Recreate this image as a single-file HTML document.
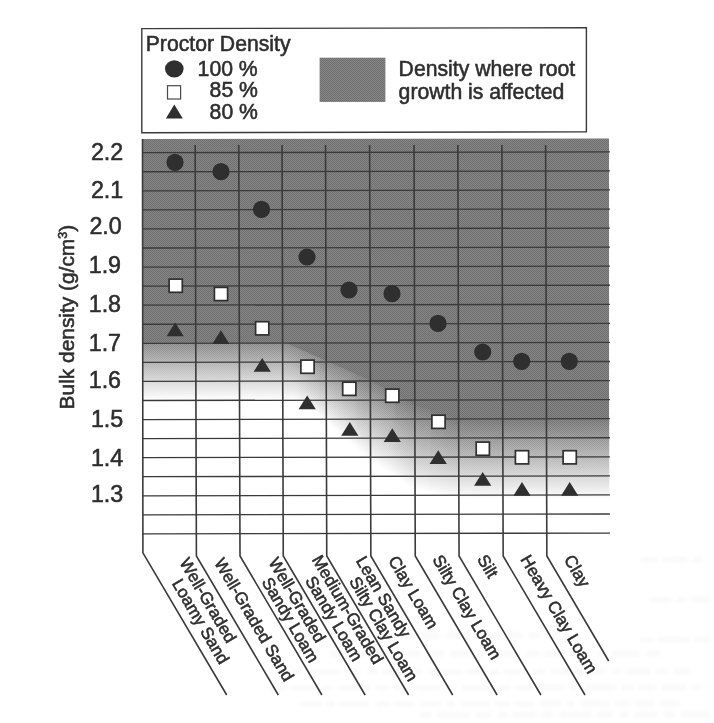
<!DOCTYPE html>
<html lang="en"><head><meta charset="utf-8"><title>Proctor Density vs Bulk Density</title>
<style>
html,body{margin:0;padding:0;background:#fff;}
body{width:714px;height:723px;overflow:hidden;}
svg{display:block;}
text{font-family:"Liberation Sans",sans-serif;fill:#2e2e2e;}
.hv text,text.hv{stroke:#2e2e2e;stroke-width:0.55px;}
</style></head><body>
<svg width="714" height="723" viewBox="0 0 714 723">
<defs>
<linearGradient id="fade0" x1="0" y1="0" x2="0" y2="1"><stop offset="0" stop-color="rgb(146,146,146)"/><stop offset="1" stop-color="#fff"/></linearGradient><linearGradient id="fade1" x1="0" y1="0" x2="0" y2="1"><stop offset="0" stop-color="rgb(141,141,141)"/><stop offset="1" stop-color="#fff"/></linearGradient><linearGradient id="fade2" x1="0" y1="0" x2="0" y2="1"><stop offset="0" stop-color="rgb(136,136,136)"/><stop offset="1" stop-color="#fff"/></linearGradient><linearGradient id="fade3" x1="0" y1="0" x2="0" y2="1"><stop offset="0" stop-color="rgb(131,131,131)"/><stop offset="1" stop-color="#fff"/></linearGradient><linearGradient id="fade4" x1="0" y1="0" x2="0" y2="1"><stop offset="0" stop-color="rgb(126,126,126)"/><stop offset="1" stop-color="#fff"/></linearGradient>
<pattern id="tone" width="2" height="2" patternUnits="userSpaceOnUse"><rect width="2" height="2" fill="#888888"/><rect width="1" height="1" fill="#727272"/><rect x="1" y="1" width="1" height="1" fill="#727272"/></pattern>
<filter id="smudge" x="-5%" y="-50%" width="110%" height="200%"><feGaussianBlur stdDeviation="2.2"/></filter>
<clipPath id="plotclip"><polygon points="141.9,138.9 609.0,138.1 609.3,533.5 141.9,534.5"/></clipPath>
</defs>
<rect x="0" y="0" width="714" height="723" fill="#fff"/>

<g clip-path="url(#plotclip)">
<rect x="140.6" y="136.5" width="470.69999999999993" height="399.0" fill="#fff"/>
<polygon fill="#7d7d7d" points="142.6,138.5 609.3,138.5 609.3,419.5 607.6,419.5 604.6,419.5 601.6,419.5 598.6,419.5 595.6,419.5 592.6,419.5 589.6,419.5 586.6,419.5 583.6,419.6 580.6,419.6 577.6,419.6 574.6,419.6 571.6,419.6 568.6,419.6 565.6,419.6 562.6,419.6 559.6,419.6 556.6,419.6 553.6,419.6 550.6,419.6 547.6,419.6 544.6,419.6 541.6,419.6 538.6,419.6 535.6,419.6 532.6,419.6 529.6,419.6 526.6,419.7 523.6,419.7 520.6,419.7 517.6,419.7 514.6,419.7 511.6,419.7 508.6,419.7 505.6,419.7 502.6,419.7 499.6,419.7 496.6,419.6 493.6,419.6 490.6,419.5 487.6,419.5 484.6,419.5 481.6,419.4 478.6,419.4 475.6,419.3 472.6,419.3 469.6,419.3 466.6,419.2 463.6,419.2 460.6,419.1 457.6,419.0 454.6,418.1 451.6,417.2 448.6,416.4 445.6,415.5 442.6,414.6 439.6,413.7 436.6,412.9 433.6,412.0 430.6,411.1 427.6,410.3 424.6,409.4 421.6,408.5 418.6,407.6 415.6,406.8 412.6,405.3 409.6,403.7 406.6,402.0 403.6,400.3 400.6,398.7 397.6,397.0 394.6,395.3 391.6,393.7 388.6,392.0 385.6,390.4 382.6,388.7 379.6,387.0 376.6,385.4 373.6,383.7 370.6,382.0 367.6,380.6 364.6,379.3 361.6,377.9 358.6,376.6 355.6,375.2 352.6,373.8 349.6,372.5 346.6,371.1 343.6,369.8 340.6,368.4 337.6,367.1 334.6,365.7 331.6,364.4 328.6,363.0 325.6,361.7 322.6,360.4 319.6,359.1 316.6,357.7 313.6,356.4 310.6,355.1 307.6,353.8 304.6,352.5 301.6,351.2 298.6,349.9 295.6,348.5 292.6,347.2 289.6,345.9 286.6,344.6 283.6,343.9 280.6,343.9 277.6,343.9 274.6,343.9 271.6,343.9 268.6,343.9 265.6,343.9 262.6,343.9 259.6,343.9 256.6,343.9 253.6,343.9 250.6,343.9 247.6,343.9 244.6,343.9 241.6,343.9 238.6,343.9 235.6,343.9 232.6,343.9 229.6,343.9 226.6,343.9 223.6,343.9 220.6,343.9 217.6,343.9 214.6,343.9 211.6,343.9 208.6,343.9 205.6,343.9 202.6,343.9 199.6,343.9 196.6,343.9 193.6,343.9 190.6,343.9 187.6,343.9 184.6,343.9 181.6,343.9 178.6,343.9 175.6,343.9 172.6,343.9 169.6,343.9 166.6,343.9 163.6,343.9 160.6,343.9 157.6,343.9 154.6,343.9 151.6,343.9 148.6,343.9 145.6,343.9 142.6,343.9"/>
<rect x="142.6" y="342.9" width="3.6" height="57.1" fill="url(#fade0)"/>
<rect x="145.6" y="342.9" width="3.6" height="57.1" fill="url(#fade0)"/>
<rect x="148.6" y="342.9" width="3.6" height="57.1" fill="url(#fade0)"/>
<rect x="151.6" y="342.9" width="3.6" height="57.1" fill="url(#fade0)"/>
<rect x="154.6" y="342.9" width="3.6" height="57.1" fill="url(#fade0)"/>
<rect x="157.6" y="342.9" width="3.6" height="57.1" fill="url(#fade0)"/>
<rect x="160.6" y="342.9" width="3.6" height="57.1" fill="url(#fade0)"/>
<rect x="163.6" y="342.9" width="3.6" height="57.1" fill="url(#fade0)"/>
<rect x="166.6" y="342.9" width="3.6" height="57.1" fill="url(#fade0)"/>
<rect x="169.6" y="342.9" width="3.6" height="57.1" fill="url(#fade0)"/>
<rect x="172.6" y="342.9" width="3.6" height="57.1" fill="url(#fade0)"/>
<rect x="175.6" y="342.9" width="3.6" height="57.1" fill="url(#fade0)"/>
<rect x="178.6" y="342.9" width="3.6" height="57.1" fill="url(#fade0)"/>
<rect x="181.6" y="342.9" width="3.6" height="57.1" fill="url(#fade0)"/>
<rect x="184.6" y="342.9" width="3.6" height="57.1" fill="url(#fade0)"/>
<rect x="187.6" y="342.9" width="3.6" height="57.1" fill="url(#fade0)"/>
<rect x="190.6" y="342.9" width="3.6" height="57.1" fill="url(#fade0)"/>
<rect x="193.6" y="342.9" width="3.6" height="57.1" fill="url(#fade0)"/>
<rect x="196.6" y="342.9" width="3.6" height="57.1" fill="url(#fade0)"/>
<rect x="199.6" y="342.9" width="3.6" height="57.1" fill="url(#fade0)"/>
<rect x="202.6" y="342.9" width="3.6" height="57.1" fill="url(#fade0)"/>
<rect x="205.6" y="342.9" width="3.6" height="57.1" fill="url(#fade0)"/>
<rect x="208.6" y="342.9" width="3.6" height="57.1" fill="url(#fade0)"/>
<rect x="211.6" y="342.9" width="3.6" height="57.1" fill="url(#fade0)"/>
<rect x="214.6" y="342.9" width="3.6" height="57.1" fill="url(#fade0)"/>
<rect x="217.6" y="342.9" width="3.6" height="57.1" fill="url(#fade0)"/>
<rect x="220.6" y="342.9" width="3.6" height="57.1" fill="url(#fade0)"/>
<rect x="223.6" y="342.9" width="3.6" height="57.1" fill="url(#fade0)"/>
<rect x="226.6" y="342.9" width="3.6" height="57.1" fill="url(#fade0)"/>
<rect x="229.6" y="342.9" width="3.6" height="57.1" fill="url(#fade0)"/>
<rect x="232.6" y="342.9" width="3.6" height="57.1" fill="url(#fade0)"/>
<rect x="235.6" y="342.9" width="3.6" height="57.1" fill="url(#fade0)"/>
<rect x="238.6" y="342.9" width="3.6" height="57.1" fill="url(#fade0)"/>
<rect x="241.6" y="342.9" width="3.6" height="57.1" fill="url(#fade0)"/>
<rect x="244.6" y="342.9" width="3.6" height="57.1" fill="url(#fade0)"/>
<rect x="247.6" y="342.9" width="3.6" height="57.1" fill="url(#fade0)"/>
<rect x="250.6" y="342.9" width="3.6" height="57.1" fill="url(#fade0)"/>
<rect x="253.6" y="342.9" width="3.6" height="57.1" fill="url(#fade0)"/>
<rect x="256.6" y="342.9" width="3.6" height="57.1" fill="url(#fade0)"/>
<rect x="259.6" y="342.9" width="3.6" height="57.1" fill="url(#fade0)"/>
<rect x="262.6" y="342.9" width="3.6" height="57.1" fill="url(#fade0)"/>
<rect x="265.6" y="342.9" width="3.6" height="57.1" fill="url(#fade0)"/>
<rect x="268.6" y="342.9" width="3.6" height="57.1" fill="url(#fade0)"/>
<rect x="271.6" y="342.9" width="3.6" height="57.1" fill="url(#fade0)"/>
<rect x="274.6" y="342.9" width="3.6" height="57.1" fill="url(#fade0)"/>
<rect x="277.6" y="342.9" width="3.6" height="57.1" fill="url(#fade0)"/>
<rect x="280.6" y="342.9" width="3.6" height="57.1" fill="url(#fade0)"/>
<rect x="283.6" y="342.9" width="3.6" height="57.1" fill="url(#fade0)"/>
<rect x="286.6" y="344.3" width="3.6" height="55.7" fill="url(#fade0)"/>
<rect x="289.6" y="345.6" width="3.6" height="54.4" fill="url(#fade0)"/>
<rect x="292.6" y="346.9" width="3.6" height="53.1" fill="url(#fade0)"/>
<rect x="295.6" y="348.2" width="3.6" height="52.6" fill="url(#fade0)"/>
<rect x="298.6" y="349.5" width="3.6" height="53.4" fill="url(#fade0)"/>
<rect x="301.6" y="350.8" width="3.6" height="54.2" fill="url(#fade0)"/>
<rect x="304.6" y="352.1" width="3.6" height="55.0" fill="url(#fade0)"/>
<rect x="307.6" y="353.5" width="3.6" height="55.8" fill="url(#fade0)"/>
<rect x="310.6" y="354.8" width="3.6" height="56.7" fill="url(#fade0)"/>
<rect x="313.6" y="356.1" width="3.6" height="57.5" fill="url(#fade0)"/>
<rect x="316.6" y="357.4" width="3.6" height="58.3" fill="url(#fade0)"/>
<rect x="319.6" y="358.7" width="3.6" height="59.1" fill="url(#fade1)"/>
<rect x="322.6" y="360.0" width="3.6" height="59.9" fill="url(#fade1)"/>
<rect x="325.6" y="361.3" width="3.6" height="60.7" fill="url(#fade1)"/>
<rect x="328.6" y="362.7" width="3.6" height="62.0" fill="url(#fade1)"/>
<rect x="331.6" y="364.1" width="3.6" height="63.3" fill="url(#fade1)"/>
<rect x="334.6" y="365.4" width="3.6" height="64.6" fill="url(#fade1)"/>
<rect x="337.6" y="366.8" width="3.6" height="65.9" fill="url(#fade1)"/>
<rect x="340.6" y="368.1" width="3.6" height="67.2" fill="url(#fade1)"/>
<rect x="343.6" y="369.5" width="3.6" height="68.5" fill="url(#fade1)"/>
<rect x="346.6" y="370.8" width="3.6" height="69.8" fill="url(#fade1)"/>
<rect x="349.6" y="372.2" width="3.6" height="71.1" fill="url(#fade1)"/>
<rect x="352.6" y="373.5" width="3.6" height="72.4" fill="url(#fade1)"/>
<rect x="355.6" y="374.9" width="3.6" height="73.7" fill="url(#fade2)"/>
<rect x="358.6" y="376.2" width="3.6" height="75.0" fill="url(#fade2)"/>
<rect x="361.6" y="377.6" width="3.6" height="76.3" fill="url(#fade2)"/>
<rect x="364.6" y="378.9" width="3.6" height="77.6" fill="url(#fade2)"/>
<rect x="367.6" y="380.3" width="3.6" height="78.9" fill="url(#fade2)"/>
<rect x="370.6" y="381.9" width="3.6" height="79.5" fill="url(#fade2)"/>
<rect x="373.6" y="383.5" width="3.6" height="79.9" fill="url(#fade2)"/>
<rect x="376.6" y="385.2" width="3.6" height="80.2" fill="url(#fade2)"/>
<rect x="379.6" y="386.9" width="3.6" height="80.6" fill="url(#fade2)"/>
<rect x="382.6" y="388.5" width="3.6" height="80.9" fill="url(#fade2)"/>
<rect x="385.6" y="390.2" width="3.6" height="81.3" fill="url(#fade2)"/>
<rect x="388.6" y="391.9" width="3.6" height="81.6" fill="url(#fade2)"/>
<rect x="391.6" y="393.5" width="3.6" height="82.0" fill="url(#fade2)"/>
<rect x="394.6" y="395.2" width="3.6" height="82.3" fill="url(#fade3)"/>
<rect x="397.6" y="396.8" width="3.6" height="82.7" fill="url(#fade3)"/>
<rect x="400.6" y="398.5" width="3.6" height="83.0" fill="url(#fade3)"/>
<rect x="403.6" y="400.2" width="3.6" height="83.4" fill="url(#fade3)"/>
<rect x="406.6" y="401.8" width="3.6" height="83.7" fill="url(#fade3)"/>
<rect x="409.6" y="403.5" width="3.6" height="84.1" fill="url(#fade3)"/>
<rect x="412.6" y="405.2" width="3.6" height="84.4" fill="url(#fade3)"/>
<rect x="415.6" y="406.2" width="3.6" height="84.3" fill="url(#fade3)"/>
<rect x="418.6" y="407.1" width="3.6" height="84.0" fill="url(#fade3)"/>
<rect x="421.6" y="407.9" width="3.6" height="83.7" fill="url(#fade3)"/>
<rect x="424.6" y="408.8" width="3.6" height="83.4" fill="url(#fade3)"/>
<rect x="427.6" y="409.7" width="3.6" height="83.2" fill="url(#fade3)"/>
<rect x="430.6" y="410.6" width="3.6" height="82.9" fill="url(#fade4)"/>
<rect x="433.6" y="411.4" width="3.6" height="82.6" fill="url(#fade4)"/>
<rect x="436.6" y="412.3" width="3.6" height="82.3" fill="url(#fade4)"/>
<rect x="439.6" y="413.2" width="3.6" height="82.1" fill="url(#fade4)"/>
<rect x="442.6" y="414.1" width="3.6" height="81.8" fill="url(#fade4)"/>
<rect x="445.6" y="414.9" width="3.6" height="81.5" fill="url(#fade4)"/>
<rect x="448.6" y="415.8" width="3.6" height="81.2" fill="url(#fade4)"/>
<rect x="451.6" y="416.7" width="3.6" height="80.5" fill="url(#fade4)"/>
<rect x="454.6" y="417.5" width="3.6" height="79.9" fill="url(#fade4)"/>
<rect x="457.6" y="418.1" width="3.6" height="79.5" fill="url(#fade4)"/>
<rect x="460.6" y="418.2" width="3.6" height="79.7" fill="url(#fade4)"/>
<rect x="463.6" y="418.2" width="3.6" height="79.8" fill="url(#fade4)"/>
<rect x="466.6" y="418.2" width="3.6" height="80.0" fill="url(#fade4)"/>
<rect x="469.6" y="418.3" width="3.6" height="80.1" fill="url(#fade4)"/>
<rect x="472.6" y="418.3" width="3.6" height="80.3" fill="url(#fade4)"/>
<rect x="475.6" y="418.4" width="3.6" height="80.4" fill="url(#fade4)"/>
<rect x="478.6" y="418.4" width="3.6" height="80.6" fill="url(#fade4)"/>
<rect x="481.6" y="418.4" width="3.6" height="80.6" fill="url(#fade4)"/>
<rect x="484.6" y="418.5" width="3.6" height="80.5" fill="url(#fade4)"/>
<rect x="487.6" y="418.5" width="3.6" height="80.5" fill="url(#fade4)"/>
<rect x="490.6" y="418.6" width="3.6" height="80.4" fill="url(#fade4)"/>
<rect x="493.6" y="418.6" width="3.6" height="80.4" fill="url(#fade4)"/>
<rect x="496.6" y="418.6" width="3.6" height="80.4" fill="url(#fade4)"/>
<rect x="499.6" y="418.7" width="3.6" height="80.3" fill="url(#fade4)"/>
<rect x="502.6" y="418.7" width="3.6" height="80.3" fill="url(#fade4)"/>
<rect x="505.6" y="418.7" width="3.6" height="80.3" fill="url(#fade4)"/>
<rect x="508.6" y="418.7" width="3.6" height="80.3" fill="url(#fade4)"/>
<rect x="511.6" y="418.7" width="3.6" height="80.3" fill="url(#fade4)"/>
<rect x="514.6" y="418.7" width="3.6" height="80.3" fill="url(#fade4)"/>
<rect x="517.6" y="418.7" width="3.6" height="80.3" fill="url(#fade4)"/>
<rect x="520.6" y="418.7" width="3.6" height="80.3" fill="url(#fade4)"/>
<rect x="523.6" y="418.7" width="3.6" height="80.3" fill="url(#fade4)"/>
<rect x="526.6" y="418.7" width="3.6" height="80.3" fill="url(#fade4)"/>
<rect x="529.6" y="418.6" width="3.6" height="80.4" fill="url(#fade4)"/>
<rect x="532.6" y="418.6" width="3.6" height="80.4" fill="url(#fade4)"/>
<rect x="535.6" y="418.6" width="3.6" height="80.4" fill="url(#fade4)"/>
<rect x="538.6" y="418.6" width="3.6" height="80.4" fill="url(#fade4)"/>
<rect x="541.6" y="418.6" width="3.6" height="80.4" fill="url(#fade4)"/>
<rect x="544.6" y="418.6" width="3.6" height="80.4" fill="url(#fade4)"/>
<rect x="547.6" y="418.6" width="3.6" height="80.4" fill="url(#fade4)"/>
<rect x="550.6" y="418.6" width="3.6" height="80.4" fill="url(#fade4)"/>
<rect x="553.6" y="418.6" width="3.6" height="80.4" fill="url(#fade4)"/>
<rect x="556.6" y="418.6" width="3.6" height="80.4" fill="url(#fade4)"/>
<rect x="559.6" y="418.6" width="3.6" height="80.4" fill="url(#fade4)"/>
<rect x="562.6" y="418.6" width="3.6" height="80.4" fill="url(#fade4)"/>
<rect x="565.6" y="418.6" width="3.6" height="80.4" fill="url(#fade4)"/>
<rect x="568.6" y="418.6" width="3.6" height="80.4" fill="url(#fade4)"/>
<rect x="571.6" y="418.6" width="3.6" height="80.4" fill="url(#fade4)"/>
<rect x="574.6" y="418.6" width="3.6" height="80.4" fill="url(#fade4)"/>
<rect x="577.6" y="418.6" width="3.6" height="80.4" fill="url(#fade4)"/>
<rect x="580.6" y="418.6" width="3.6" height="80.4" fill="url(#fade4)"/>
<rect x="583.6" y="418.5" width="3.6" height="80.5" fill="url(#fade4)"/>
<rect x="586.6" y="418.5" width="3.6" height="80.5" fill="url(#fade4)"/>
<rect x="589.6" y="418.5" width="3.6" height="80.5" fill="url(#fade4)"/>
<rect x="592.6" y="418.5" width="3.6" height="80.5" fill="url(#fade4)"/>
<rect x="595.6" y="418.5" width="3.6" height="80.5" fill="url(#fade4)"/>
<rect x="598.6" y="418.5" width="3.6" height="80.5" fill="url(#fade4)"/>
<rect x="601.6" y="418.5" width="3.6" height="80.5" fill="url(#fade4)"/>
<rect x="604.6" y="418.5" width="3.6" height="80.5" fill="url(#fade4)"/>
<rect x="607.6" y="418.5" width="3.6" height="80.5" fill="url(#fade4)"/>
<rect x="142.6" y="138.5" width="466.69999999999993" height="395.0" fill="url(#tone)" style="mix-blend-mode:overlay"/>
</g>
<g stroke="#3a3a3a" stroke-width="1.3" fill="none">
<line x1="142.6" y1="152.70" x2="609.9" y2="151.85"/>
<line x1="142.6" y1="171.76" x2="609.9" y2="170.91"/>
<line x1="142.6" y1="190.82" x2="609.9" y2="189.97"/>
<line x1="142.6" y1="209.88" x2="609.9" y2="209.03"/>
<line x1="142.6" y1="228.94" x2="609.9" y2="228.09"/>
<line x1="142.6" y1="248.00" x2="609.9" y2="247.15"/>
<line x1="142.6" y1="267.06" x2="609.9" y2="266.21"/>
<line x1="142.6" y1="286.12" x2="609.9" y2="285.27"/>
<line x1="142.6" y1="305.18" x2="609.9" y2="304.33"/>
<line x1="142.6" y1="324.24" x2="609.9" y2="323.39"/>
<line x1="142.6" y1="343.30" x2="609.9" y2="342.45"/>
<line x1="142.6" y1="362.36" x2="609.9" y2="361.51"/>
<line x1="142.6" y1="381.42" x2="609.9" y2="380.57"/>
<line x1="142.6" y1="400.48" x2="609.9" y2="399.63"/>
<line x1="142.6" y1="419.54" x2="609.9" y2="418.69"/>
<line x1="142.6" y1="438.60" x2="609.9" y2="437.75"/>
<line x1="142.6" y1="457.66" x2="609.9" y2="456.81"/>
<line x1="142.6" y1="476.72" x2="609.9" y2="475.87"/>
<line x1="142.6" y1="495.78" x2="609.9" y2="494.93"/>
<line x1="142.6" y1="514.84" x2="609.9" y2="513.99"/>
<line x1="142.6" y1="533.90" x2="609.9" y2="533.05"/>
</g>
<g stroke="#3a3a3a" stroke-width="1.6" fill="none" stroke-linejoin="miter">
<polyline points="142.50,139 142.91,552.8 226.7,695.0"/>
<polyline points="195.16,145 196.40,556 278.3,695.0"/>
<polyline points="238.76,145 240.00,556 321.9,695.0"/>
<polyline points="282.02,145 283.25,556 365.1,695.0"/>
<polyline points="325.52,145 326.75,556 408.6,695.0"/>
<polyline points="369.62,145 370.85,556 452.7,695.0"/>
<polyline points="414.02,145 415.25,556 497.1,695.0"/>
<polyline points="457.81,145 459.05,556 540.9,695.0"/>
<polyline points="501.92,145 503.15,556 585.0,695.0"/>
<polyline points="545.62,145 546.85,556 608.7,661.0"/>
</g>
<g fill="#2f2f2f">
<circle cx="175" cy="162.3" r="8.6"/>
<circle cx="221" cy="171.7" r="8.6"/>
<circle cx="261.5" cy="209.3" r="8.6"/>
<circle cx="307" cy="257" r="8.6"/>
<circle cx="349" cy="290" r="8.6"/>
<circle cx="392" cy="293.7" r="8.6"/>
<circle cx="438" cy="323.4" r="8.6"/>
<circle cx="482.7" cy="352" r="8.6"/>
<circle cx="521.7" cy="361.3" r="8.6"/>
<circle cx="569.3" cy="361.3" r="8.6"/>
<polygon points="175.2,322.4 183.8,336.2 166.6,336.2"/>
<polygon points="220.9,330.2 229.5,344.0 212.3,344.0"/>
<polygon points="262.2,358.0 270.8,371.8 253.6,371.8"/>
<polygon points="307.2,395.5 315.8,409.3 298.6,409.3"/>
<polygon points="349.8,422.0 358.4,435.8 341.2,435.8"/>
<polygon points="392.3,428.2 400.9,442.0 383.7,442.0"/>
<polygon points="438.2,450.3 446.8,464.1 429.6,464.1"/>
<polygon points="482.7,472.0 491.3,485.8 474.1,485.8"/>
<polygon points="522,482.0 530.6,495.8 513.4,495.8"/>
<polygon points="569.7,482.0 578.3,495.8 561.1,495.8"/>
</g>
<g fill="#fff" stroke="#2f2f2f" stroke-width="1.7">
<rect x="169.1" y="279.1" width="13.2" height="13.2"/>
<rect x="214.4" y="287.4" width="13.2" height="13.2"/>
<rect x="255.6" y="321.7" width="13.2" height="13.2"/>
<rect x="300.9" y="360.1" width="13.2" height="13.2"/>
<rect x="342.7" y="382.2" width="13.2" height="13.2"/>
<rect x="385.7" y="389.1" width="13.2" height="13.2"/>
<rect x="431.9" y="415.2" width="13.2" height="13.2"/>
<rect x="476.2" y="442.1" width="13.2" height="13.2"/>
<rect x="515.4" y="450.7" width="13.2" height="13.2"/>
<rect x="563.1" y="450.7" width="13.2" height="13.2"/>
</g>
<g font-size="23.3" class="hv">
<text x="90.9" y="160.3">2.2</text>
<text x="90.9" y="197.5">2.1</text>
<text x="89.4" y="234.4">2.0</text>
<text x="88.7" y="272.8">1.9</text>
<text x="88.7" y="311.7">1.8</text>
<text x="88.7" y="350.8">1.7</text>
<text x="88.7" y="388.3">1.6</text>
<text x="90.9" y="427.2">1.5</text>
<text x="90.9" y="465.8">1.4</text>
<text x="90.9" y="501.7">1.3</text>
</g>
<text class="hv" font-size="20.9" text-anchor="middle" transform="translate(73.8,317.1) rotate(-90)">Bulk density (g/cm<tspan font-size="12.5" dy="-7">3</tspan><tspan dy="7">)</tspan></text>
<polygon points="141.8,28.6 586.4,27.7 586.4,131.9 141.8,132.8" fill="#fff" stroke="#3a3a3a" stroke-width="1.4"/>
<g font-size="21.2" class="hv">
<text x="145.7" y="50.8">Proctor Density</text>
<text x="197.6" y="75.8">100 %</text>
<text x="209.6" y="97.2">85 %</text>
<text x="209.6" y="118.7">80 %</text>
<text x="398.6" y="75.8">Density where root</text>
<text x="398.6" y="98.8">growth is affected</text>
</g>
<rect x="319.6" y="57.7" width="65.8" height="44.2" fill="#7d7d7d"/>
<rect x="319.6" y="57.7" width="65.8" height="44.2" fill="url(#tone)" style="mix-blend-mode:overlay"/>
<ellipse cx="174.3" cy="68.8" rx="9.3" ry="8.6" fill="#2f2f2f"/>
<rect x="167.5" y="85.7" width="13.1" height="13.3" fill="#fff" stroke="#4a4a4a" stroke-width="1.2"/>
<polygon points="174.3,104.5 182.8,118.5 165.9,118.5" fill="#2f2f2f"/>
<g stroke="#000" stroke-width="5" opacity="0.028" fill="none" filter="url(#smudge)">
<line x1="300" y1="636" x2="550" y2="635.4" stroke-dasharray="17 6 25 5 9 7 31 6 12 5"/>
<line x1="330" y1="654" x2="660" y2="653.4" stroke-dasharray="22 5 8 6 28 7 14 5 19 6"/>
<line x1="290" y1="672" x2="690" y2="671.4" stroke-dasharray="11 6 33 5 16 7 9 5 24 6"/>
<line x1="270" y1="688" x2="710" y2="687.4" stroke-dasharray="17 6 25 5 9 7 31 6 12 5"/>
<line x1="300" y1="704" x2="680" y2="703.4" stroke-dasharray="22 5 8 6 28 7 14 5 19 6"/>
<line x1="420" y1="715" x2="710" y2="714.4" stroke-dasharray="11 6 33 5 16 7 9 5 24 6"/>
<line x1="640" y1="560" x2="710" y2="559.4" stroke-dasharray="17 6 25 5 9 7 31 6 12 5"/>
<line x1="650" y1="600" x2="710" y2="599.4" stroke-dasharray="22 5 8 6 28 7 14 5 19 6"/>
<line x1="640" y1="640" x2="710" y2="639.4" stroke-dasharray="11 6 33 5 16 7 9 5 24 6"/>
</g>
<g font-size="17.0" class="hv">
<text transform="translate(178.9,562.3) rotate(59.5)">Well-Graded</text>
<text transform="translate(171.4,583.2) rotate(59.5)">Loamy Sand</text>
<text transform="translate(213.7,562.5) rotate(59.5)">Well-Graded Sand</text>
<text transform="translate(268.1,561.9) rotate(59.5)">Well-Graded</text>
<text transform="translate(261.3,581.7) rotate(59.5)">Sandy Loam</text>
<text transform="translate(311.6,559.5) rotate(59.5)">Medium-Graded</text>
<text transform="translate(304.8,580.4) rotate(59.5)">Sandy Loam</text>
<text transform="translate(355.4,560.6) rotate(59.5)">Lean Sandy</text>
<text transform="translate(348.7,581.0) rotate(59.5)">Silty Clay Loam</text>
<text transform="translate(387.7,560.2) rotate(59.5)">Clay Loam</text>
<text transform="translate(432,559.3) rotate(59.5)">Silty Clay Loam</text>
<text transform="translate(476.8,558.9) rotate(59.5)">Silt</text>
<text transform="translate(520,559.3) rotate(59.5)">Heavy Clay Loam</text>
<text transform="translate(563.5,559.3) rotate(59.5)">Clay</text>
</g>
</svg></body></html>
